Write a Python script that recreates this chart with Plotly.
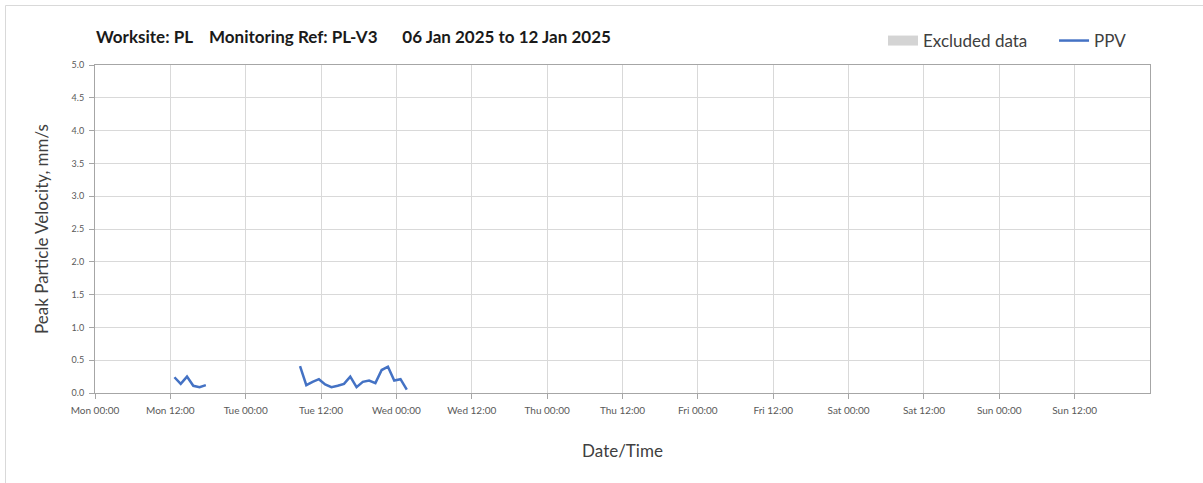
import plotly.graph_objects as go
import pandas as pd

# --- data ---
seg1_start = "2025-01-06 12:39"
seg1_ppv = [0.24, 0.14, 0.25, 0.11, 0.09, 0.12]

seg2_start = "2025-01-07 08:39"
seg2_ppv = [0.41, 0.12, 0.17, 0.21, 0.13, 0.09, 0.11, 0.14, 0.25, 0.09,
            0.17, 0.19, 0.15, 0.35, 0.40, 0.19, 0.21, 0.05]

# no excluded periods in this week (legend entry only)
excluded_x = [None]
excluded_y = [None]

x_tick_labels = ["Mon 00:00", "Mon 12:00", "Tue 00:00", "Tue 12:00", "Wed 00:00",
                 "Wed 12:00", "Thu 00:00", "Thu 12:00", "Fri 00:00", "Fri 12:00",
                 "Sat 00:00", "Sat 12:00", "Sun 00:00", "Sun 12:00"]
y_tick_vals = [0.0, 0.5, 1.0, 1.5, 2.0, 2.5, 3.0, 3.5, 4.0, 4.5, 5.0]

title_text = ("Worksite: PL\u00a0\u00a0\u00a0\u00a0Monitoring Ref: PL-V3"
              "\u00a0\u00a0\u00a0\u00a0\u00a0\u00a006 Jan 2025 to 12 Jan 2025")

# --- build series (gap between segments) ---
t1 = list(pd.date_range(seg1_start, periods=len(seg1_ppv), freq="h"))
t2 = list(pd.date_range(seg2_start, periods=len(seg2_ppv), freq="h"))
xs = t1 + [None] + t2
ys = seg1_ppv + [None] + seg2_ppv

x_tick_vals = list(pd.date_range("2025-01-06 00:00", periods=len(x_tick_labels), freq="12h"))

W, H = 1203, 483
L, R, T, B = 95, 53, 65, 90
pw, ph = W - L - R, H - T - B

def px_x(p):
    return (p - L) / pw

def px_y(p):
    return (H - B - p) / ph

FONT = "Lato, Open Sans, sans-serif"

fig = go.Figure()
fig.add_trace(go.Scatter(x=excluded_x, y=excluded_y, mode="lines",
                         name="Excluded data" + "\u00a0" * 5,
                         line=dict(color="#d4d4d4", width=10)))
fig.add_trace(go.Scatter(x=xs, y=ys, mode="lines", name="PPV",
                         line=dict(color="#4472C4", width=2.5),
                         connectgaps=False))

axis_line = "#a6a6a6"
grid = "#d9d9d9"

fig.update_layout(
    width=W, height=H,
    margin=dict(l=L, r=R, t=T, b=B, autoexpand=False),
    paper_bgcolor="white", plot_bgcolor="white",
    showlegend=True,
    legend=dict(orientation="h", x=px_x(1132), xanchor="right",
                y=px_y(41), yanchor="middle",
                font=dict(family=FONT, size=17, color="#404040"),
                bgcolor="rgba(0,0,0,0)", traceorder="normal", itemwidth=30),
    xaxis=dict(
        type="date",
        range=["2025-01-06 00:00", "2025-01-12 23:59:59"],
        tickvals=x_tick_vals, ticktext=x_tick_labels,
        showgrid=True, gridcolor=grid, gridwidth=1,
        showline=True, linecolor=axis_line, linewidth=1, mirror=True,
        ticks="outside", ticklen=5, tickcolor=axis_line,
        ticklabelstandoff=3,
        tickfont=dict(family=FONT, size=10, color="#595959"),
        title=dict(text="Date/Time", standoff=30,
                   font=dict(family=FONT, size=17, color="#404040")),
        zeroline=False,
    ),
    yaxis=dict(
        range=[0, 5],
        tickvals=y_tick_vals, tickformat=".1f",
        showgrid=True, gridcolor=grid, gridwidth=1,
        showline=True, linecolor=axis_line, linewidth=1, mirror=True,
        ticks="outside", ticklen=5, tickcolor=axis_line,
        ticklabelstandoff=3,
        tickfont=dict(family=FONT, size=9, color="#595959"),
        title=dict(text="Peak Particle Velocity, mm/s", standoff=18,
                   font=dict(family=FONT, size=17, color="#404040")),
        zeroline=False,
    ),
    annotations=[dict(
        text="<b>" + title_text + "</b>",
        xref="paper", yref="paper", x=px_x(94), y=px_y(37),
        xanchor="left", yanchor="middle", showarrow=False,
        font=dict(family=FONT, size=17, color="#1a1a1a"),
    )],
    shapes=[dict(type="rect", xref="paper", yref="paper",
                 x0=px_x(5.5), x1=px_x(1260), y0=px_y(540), y1=px_y(5.5),
                 line=dict(color="#d9d9d9", width=1), layer="below")],
)

fig.write_html("out.html", config={"displayModeBar": False},
               post_script="document.body.style.margin='0';")
